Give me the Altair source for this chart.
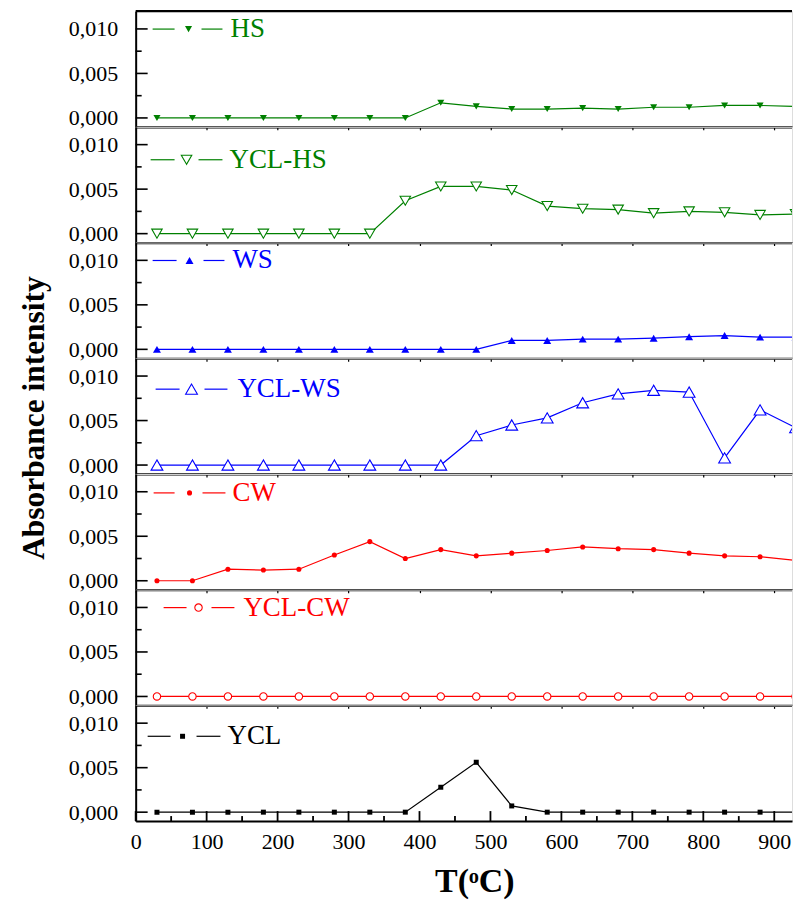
import altair as alt
import pandas as pd

# ---------------- data ----------------
temps = [30, 80, 130, 180, 230, 280, 330, 380, 430, 480, 530, 580, 630, 680, 730, 780, 830, 880, 930]

hs = [0, 0, 0, 0, 0, 0, 0, 0, 0.0017, 0.0013, 0.0010, 0.0010, 0.0011, 0.0010, 0.0012, 0.0012, 0.0014, 0.0014, 0.0013]
ycl_hs = [0, 0, 0, 0, 0, 0, 0, 0.0037, 0.0053, 0.0053, 0.0049, 0.0031, 0.0028, 0.0027, 0.0023, 0.0025, 0.0024, 0.0021, 0.0022]
ws = [0, 0, 0, 0, 0, 0, 0, 0, 0, 0, 0.0010, 0.0010, 0.00115, 0.00115, 0.00125, 0.00142, 0.00155, 0.00137, 0.00137]
ycl_ws = [0, 0, 0, 0, 0, 0, 0, 0, 0, 0.0033, 0.0045, 0.0053, 0.0070, 0.0080, 0.0084, 0.0082, 0.0008, 0.0062, 0.0042]
cw = [0, 0, 0.0013, 0.0012, 0.0013, 0.0029, 0.0044, 0.0025, 0.0035, 0.0028, 0.0031, 0.0034, 0.0038, 0.0036, 0.0035, 0.0031, 0.0028, 0.0027, 0.0023]
ycl_cw = [0, 0, 0, 0, 0, 0, 0, 0, 0, 0, 0, 0, 0, 0, 0, 0, 0, 0, 0]
ycl = [0, 0, 0, 0, 0, 0, 0, 0, 0.0028, 0.0056, 0.0007, 0, 0, 0, 0, 0, 0, 0, 0]

names = ["HS", "YCL-HS", "WS", "YCL-WS", "CW", "YCL-CW", "YCL"]
series = [hs, ycl_hs, ws, ycl_ws, cw, ycl_cw, ycl]

y_major = [0, 0.005, 0.010]
y_minor = [0.0025, 0.0075]
x_major = [0, 100, 200, 300, 400, 500, 600, 700, 800, 900]
x_minor = [50, 150, 250, 350, 450, 550, 650, 750, 850]
x_sep_ticks = [0, 50, 100, 150, 200, 250, 300, 350, 400, 450, 500, 550, 600, 650, 700, 750, 800, 850, 900]

x_title = "T(ᵒC)"
y_title = "Absorbance intensity"

# ---------------- styles ----------------
GREEN, BLUE, RED, BLACK = "#008000", "#0000FF", "#FF0000", "#000000"
styles = [
    dict(color=GREEN, shape="triangle-down", filled=True, size=50),
    dict(color=GREEN, shape="triangle-down", filled=False, size=110),
    dict(color=BLUE, shape="triangle-up", filled=True, size=64),
    dict(color=BLUE, shape="triangle-up", filled=False, size=140),
    dict(color=RED, shape="circle", filled=True, size=26),
    dict(color=RED, shape="circle", filled=False, size=55),
    dict(color=BLACK, shape="square", filled=True, size=25),
]
# legend layout in panel pixels: (line1 x0, x1, marker x, line2 x0, x1, text x, y)
legend_pos = [
    (17, 39, 53, 66, 87, 95, 18),
    (15, 39, 51, 63, 87, 94, 33),
    (17, 41, 54, 68, 89, 97, 18),
    (20, 44, 56, 69, 92, 102, 31),
    (18, 39, 54, 67, 90, 97, 19),
    (28, 51, 63, 76, 99, 108, 18),
    (12, 35, 47, 61, 85, 92, 31),
]

W = 658
H = 116
SERIF = "Liberation Serif"
XS = alt.Scale(domain=[0, 925], nice=False, zero=False)
YS = alt.Scale(domain=[-0.001, 0.012], nice=False, zero=False)
one = pd.DataFrame({"k": [0]})


def make_panel(i):
    name = names[i]
    st = styles[i]
    c = st["color"]
    last = i == len(names) - 1
    df = pd.DataFrame({"T": temps, "A": series[i]})

    if last:
        xaxis = alt.Axis(
            values=x_major, ticks=False, tickSize=0, labelPadding=11,
            labelFont=SERIF, labelFontSize=22, labelColor="black",
            domainColor="black", domainWidth=2, grid=False, title=None,
            labelFlush=False,
        )
    else:
        xaxis = alt.Axis(
            values=x_sep_ticks, labels=False, ticks=True, tickSize=3, tickColor="black",
            tickWidth=1.2, domainColor="black", domainWidth=2.2, grid=False, title=None,
        )

    yaxis = alt.Axis(
        values=y_major, ticks=False, tickSize=0, labelPadding=18,
        labelFont=SERIF, labelFontSize=22, labelColor="black",
        labelExpr="replace(format(datum.value, '.3f'), '.', ',')",
        domainColor="black", domainWidth=2, grid=False, title=None,
    )

    x_enc = alt.X("T:Q", scale=XS, axis=xaxis)
    y_enc = alt.Y("A:Q", scale=YS, axis=yaxis)

    line = alt.Chart(df).mark_line(color=c, strokeWidth=1.2, clip=True).encode(x=x_enc, y=y_enc)

    pkw = dict(shape=st["shape"], size=st["size"], opacity=1, clip=True, strokeWidth=1.1)
    if st["filled"]:
        pkw.update(filled=True, color=c)
    else:
        pkw.update(filled=False, fill="white", fillOpacity=1, stroke=c)
    pts = alt.Chart(df).mark_point(**pkw).encode(x=alt.X("T:Q"), y=alt.Y("A:Q"))

    # inward y ticks
    ymaj = alt.Chart(pd.DataFrame({"A": y_major})).mark_rule(color="black", strokeWidth=1.6).encode(
        y=alt.Y("A:Q"), x=alt.value(0), x2=alt.value(12))
    ymin = alt.Chart(pd.DataFrame({"A": y_minor})).mark_rule(color="black", strokeWidth=1.6).encode(
        y=alt.Y("A:Q"), x=alt.value(0), x2=alt.value(6))

    layers = [line, pts, ymaj, ymin]

    if last:
        xmaj = alt.Chart(pd.DataFrame({"T": x_major})).mark_rule(color="black", strokeWidth=1.8).encode(
            x=alt.X("T:Q"), y=alt.value(H), y2=alt.value(H - 10))
        xmin = alt.Chart(pd.DataFrame({"T": x_minor})).mark_rule(color="black", strokeWidth=1.8).encode(
            x=alt.X("T:Q"), y=alt.value(H), y2=alt.value(H - 5))
        xt = alt.Chart(one).mark_text(
            align="center", baseline="alphabetic", font=SERIF, fontSize=34,
            fontWeight="bold", color="black"
        ).encode(x=alt.value(340), y=alt.value(H + 71), text=alt.value(x_title))
        layers += [xmaj, xmin, xt]

    if i == 3:
        yt = alt.Chart(one).mark_text(
            align="center", baseline="alphabetic", font=SERIF, fontSize=31.5,
            fontWeight="bold", color="black", angle=270
        ).encode(x=alt.value(-92), y=alt.value(60), text=alt.value(y_title))
        layers.append(yt)

    if i == 0:
        top = alt.Chart(one).mark_rule(color="black", strokeWidth=2.2).encode(
            x=alt.value(0), x2=alt.value(W), y=alt.value(0))
        layers.append(top)

    # legend
    l0, l1, mx, r0, r1, tx, ly = legend_pos[i]
    lg1 = alt.Chart(one).mark_rule(color=c, strokeWidth=1.2).encode(
        x=alt.value(l0), x2=alt.value(l1), y=alt.value(ly))
    lg2 = alt.Chart(one).mark_rule(color=c, strokeWidth=1.2).encode(
        x=alt.value(r0), x2=alt.value(r1), y=alt.value(ly))
    lkw = dict(pkw)
    lkw.pop("clip")
    lgp = alt.Chart(one).mark_point(**lkw).encode(x=alt.value(mx), y=alt.value(ly))
    lgt = alt.Chart(one).mark_text(
        align="left", baseline="middle", font=SERIF, fontSize=27, color=c
    ).encode(x=alt.value(tx), y=alt.value(ly), text=alt.value(name))
    layers += [lg1, lg2, lgp, lgt]

    return alt.layer(*layers).properties(width=W, height=H)


chart = alt.vconcat(*[make_panel(i) for i in range(len(names))], spacing=0, bounds="flush").properties(
    padding={"left": 10, "top": 0, "right": 0, "bottom": 0}
).configure_view(stroke=None).configure(background="white")

chart.save("out.html", embed_options={"renderer": "svg", "actions": False})
